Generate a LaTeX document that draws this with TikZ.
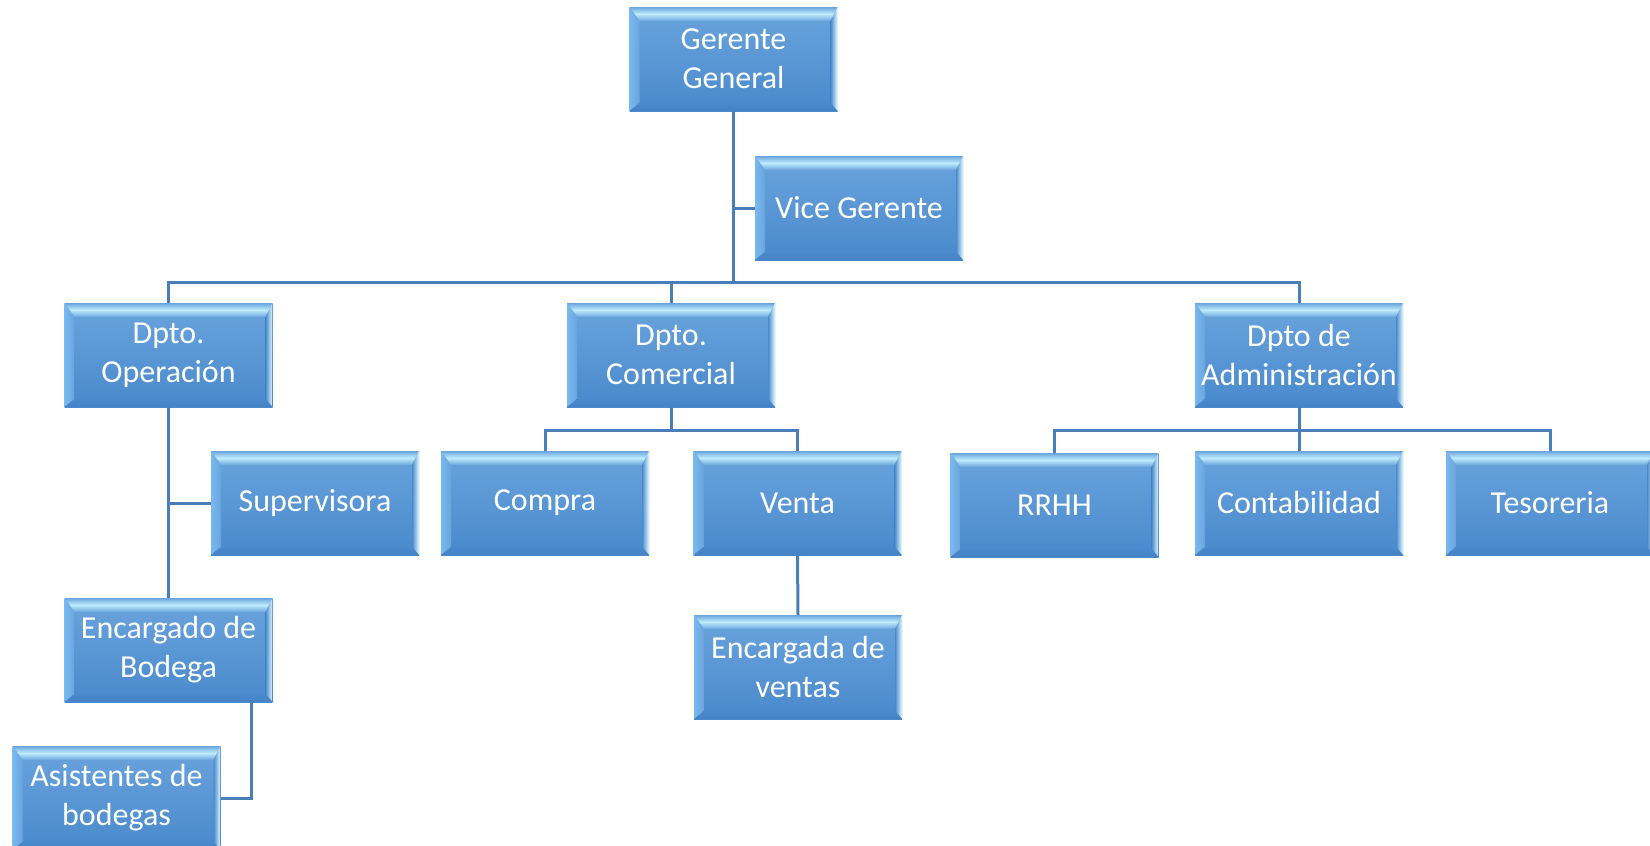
\documentclass[tikz,border=0pt]{standalone}
\usepackage{fontspec}
\setmainfont{Carlito}
\definecolor{boxtop}{RGB}{106,164,221}
\definecolor{boxbot}{RGB}{73,137,204}
\definecolor{bevlight}{RGB}{190,236,252}
\definecolor{bevleft}{RGB}{120,185,240}
\definecolor{bevright}{RGB}{225,250,255}
\definecolor{bevbot}{RGB}{70,130,198}
\definecolor{linecol}{RGB}{74,126,187}
\newcommand\orgfont{\fontsize{32}{39}\selectfont}
\newcommand\bevelparts{%
  \path (path picture bounding box.north west) coordinate (bNW)
        (path picture bounding box.north east) coordinate (bNE)
        (path picture bounding box.south west) coordinate (bSW)
        (path picture bounding box.south east) coordinate (bSE);
  \coordinate (iNW) at ([xshift=10pt,yshift=-14pt]bNW);
  \coordinate (iNE) at ([xshift=-7pt,yshift=-14pt]bNE);
  \coordinate (iSW) at ([xshift=10pt,yshift=8pt]bSW);
  \coordinate (iSE) at ([xshift=-7pt,yshift=8pt]bSE);
  \shade[top color=boxtop, bottom color=boxtop, middle color=bevlight] (bNW) -- (bNE) -- (iNE) -- (iNW) -- cycle;
  \shade[left color=bevleft, right color=boxtop] (bNW) -- (iNW) -- (iSW) -- (bSW) -- cycle;
  \shade[left color=boxbot, right color=bevright] (bNE) -- (iNE) -- (iSE) -- (bSE) -- cycle;
  \shade[top color=boxbot, bottom color=bevbot] (bSW) -- (iSW) -- (iSE) -- (bSE) -- cycle;
}
\tikzset{
  orgbox/.style={rectangle, minimum width=208pt, minimum height=104pt, inner sep=0pt,
    text=white, font=\orgfont, align=center, top color=boxtop, bottom color=boxbot,
    path picture={\bevelparts}},
  conn/.style={draw=linecol, line width=3pt}
}
\begin{document}
\begin{tikzpicture}[x=1pt,y=-1pt]
\useasboundingbox (0,0) rectangle (1650,846);
\clip (0,0) rectangle (1650,846);
% boxes
\node[orgbox] (gg) at (733.5,59) {Gerente\\General};
\node[orgbox] (vg) at (859,208) {Vice Gerente};
\node[orgbox] (op) at (168.5,355) {Dpto.\\Operación};
\node[orgbox] (com) at (671,355) {Dpto.\\Comercial};
\node[orgbox] (adm) at (1299,355) {Dpto de\\Administración};
\node[orgbox] (sup) at (315,503) {Supervisora};
\node[orgbox] (compra) at (545,503) {Compra};
\node[orgbox] (venta) at (797.5,503) {Venta};
\node[orgbox] (rrhh) at (1054.5,505) {RRHH};
\node[orgbox] (conta) at (1299,503) {Contabilidad};
\node[orgbox] (teso) at (1550,503) {Tesoreria};
\node[orgbox] (enc) at (168.5,650) {Encargado de\\Bodega};
\node[orgbox] (encv) at (798,667) {Encargada de\\ventas};
\node[orgbox] (asi) at (116.5,798) {Asistentes de\\bodegas};
% bus coordinates
\coordinate (bus) at (0,282.5);
\coordinate (cbus) at (0,430);
\coordinate (abus) at (0,430);
% connectors
\draw[conn] (gg.south) -- (gg.south |- bus);
\draw[conn] (gg.south |- vg.west) -- (vg.west);
\draw[conn] (op.north) -- (op.north |- bus) -- (adm.north |- bus) -- (adm.north);
\draw[conn] (com.north) -- (com.north |- bus);
\draw[conn] (op.south) -- (enc.north);
\draw[conn] (op.south |- sup.west) -- (sup.west);
\draw[conn] ([xshift=-21pt]enc.south east) |- (asi.east);
\draw[conn] (com.south) -- (com.south |- cbus);
\draw[conn] (compra.north) -- (compra.north |- cbus) -- (venta.north |- cbus) -- (venta.north);
\draw[conn] (venta.south) -- (encv.north);
\draw[conn] (adm.south) -- (adm.south |- abus);
\draw[conn] (rrhh.north) -- (rrhh.north |- abus) -- (teso.north |- abus) -- (teso.north);
\draw[conn] (conta.north) -- (conta.north |- abus);
\end{tikzpicture}
\end{document}
